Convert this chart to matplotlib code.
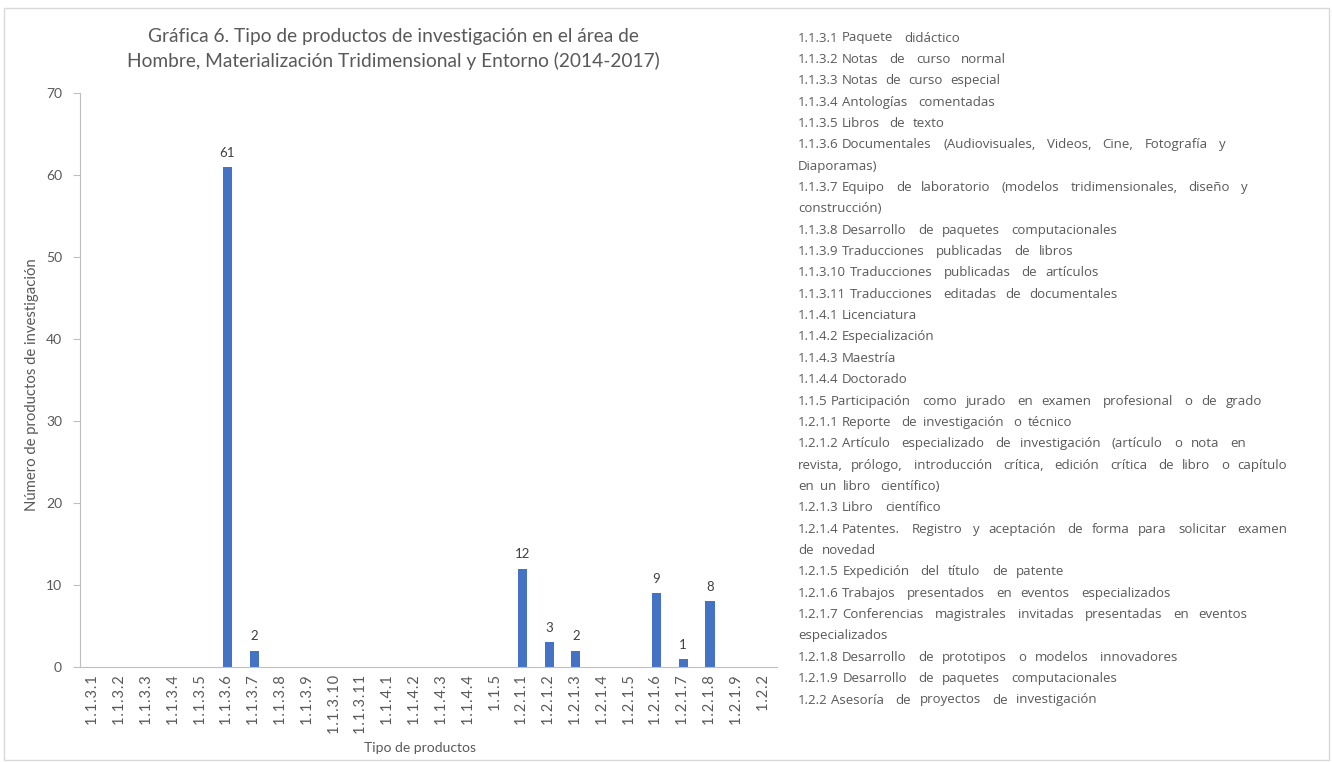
import re
import matplotlib
matplotlib.use("Agg")
import matplotlib.pyplot as plt
from matplotlib.patches import Rectangle

categories = ["1.1.3.1", "1.1.3.2", "1.1.3.3", "1.1.3.4", "1.1.3.5", "1.1.3.6",
              "1.1.3.7", "1.1.3.8", "1.1.3.9", "1.1.3.10", "1.1.3.11", "1.1.4.1",
              "1.1.4.2", "1.1.4.3", "1.1.4.4", "1.1.5", "1.2.1.1", "1.2.1.2",
              "1.2.1.3", "1.2.1.4", "1.2.1.5", "1.2.1.6", "1.2.1.7", "1.2.1.8",
              "1.2.1.9", "1.2.2"]
values = [0, 0, 0, 0, 0, 61, 2, 0, 0, 0, 0, 0, 0, 0, 0, 0, 12, 3, 2, 0, 0, 9, 1, 8, 0, 0]

title = "Gráfica 6. Tipo de productos de investigación en el área de\nHombre, Materialización Tridimensional y Entorno (2014-2017)"
xlabel = "Tipo de productos"
ylabel = "Número de productos de investigación"
yticks = [0, 10, 20, 30, 40, 50, 60, 70]

legend_lines = [
    "1.1.3.1 Paquete  didáctico",
    "1.1.3.2 Notas  de  curso  normal",
    "1.1.3.3 Notas  de  curso  especial",
    "1.1.3.4 Antologías  comentadas",
    "1.1.3.5 Libros  de  texto",
    "1.1.3.6 Documentales  (Audiovisuales,  Videos,  Cine,  Fotografía  y",
    "Diaporamas)",
    "1.1.3.7 Equipo  de laboratorio  (modelos  tridimensionales,  diseño  y",
    "construcción)",
    "1.1.3.8 Desarrollo  de paquetes  computacionales",
    "1.1.3.9 Traducciones  publicadas  de libros",
    "1.1.3.10 Traducciones  publicadas  de artículos",
    "1.1.3.11 Traducciones  editadas de documentales",
    "1.1.4.1 Licenciatura",
    "1.1.4.2 Especialización",
    "1.1.4.3 Maestría",
    "1.1.4.4 Doctorado",
    "1.1.5 Participación  como jurado  en examen  profesional  o de grado",
    "1.2.1.1 Reporte  de investigación  o técnico",
    "1.2.1.2 Artículo  especializado  de investigación  (artículo  o nota  en",
    "revista, prólogo,  introducción  crítica,  edición  crítica  de libro  o capítulo",
    "en un libro  científico)",
    "1.2.1.3 Libro  científico",
    "1.2.1.4 Patentes.  Registro  y aceptación  de forma para  solicitar  examen",
    "de novedad",
    "1.2.1.5 Expedición  del título  de patente",
    "1.2.1.6 Trabajos  presentados  en eventos  especializados",
    "1.2.1.7 Conferencias  magistrales  invitadas  presentadas  en eventos",
    "especializados",
    "1.2.1.8 Desarrollo  de prototipos  o modelos  innovadores",
    "1.2.1.9 Desarrollo  de paquetes  computacionales",
    "1.2.2 Asesoría  de proyectos  de investigación",
]
# approximate right edge (pixels) of each legend line in the original
legend_right = [970, 1006, 1000, 1008, 945, 1248, 878, 1264, 885, 1131, 1085, 1112,
                1135, 920, 948, 904, 917, 1268, 1072, 1258, 1287, 940, 948, 1297,
                878, 1073, 1185, 1264, 887, 1188, 1131, 1106]

W, H = 1333, 762
fig = plt.figure(figsize=(W / 100, H / 100), dpi=100)
fig.patch.set_facecolor("white")
plt.rcParams['font.family'] = ['Lato', 'DejaVu Sans']

gray = "#595959"
bar_color = "#4472C4"

fig.add_artist(Rectangle((4 / W, 1 - 760 / H), 1325 / W, 752 / H, transform=fig.transFigure,
                         fill=False, edgecolor="#d9d9d9", linewidth=1))

ax = fig.add_axes([80 / W, 1 - 667 / H, (777 - 80) / W, (667 - 93) / H])
x = list(range(len(categories)))
ax.bar(x, values, width=0.34, color=bar_color)
for xi, v in zip(x, values):
    if v > 0:
        ax.text(xi, v + 1.0, str(v), ha="center", va="bottom", fontsize=9.5, color="#404040")

ax.set_xlim(-0.5, len(categories) - 0.5)
ax.set_ylim(0, 70)
ax.set_yticks(yticks)
ax.set_yticklabels([str(t) for t in yticks], fontsize=10, color=gray)
ax.set_xticks(x)
ax.set_xticklabels(["\u200a".join(c) for c in categories], rotation=90, fontsize=10.5,
                   color=gray)
ax.tick_params(axis="x", length=0, pad=6)
ax.tick_params(axis="y", length=5, color="#bfbfbf", pad=8)
for s in ["top", "right"]:
    ax.spines[s].set_visible(False)
ax.spines["left"].set_color("#bfbfbf")
ax.spines["bottom"].set_color("#bfbfbf")

fig.text(393 / W, 1 - 49 / H, title, ha="center", va="center", fontsize=13.8,
         color=gray, linespacing=1.4)
fig.text(420 / W, 1 - 748 / H, xlabel, ha="center", va="center", fontsize=10, color=gray)
fig.text(32 / W, 1 - 385 / H, ylabel, ha="center", va="center", rotation=90,
         fontsize=10.7, color=gray)

renderer = fig.canvas.get_renderer()
lfam = ["Open Sans", "DejaVu Sans"]
fs = 9.5
t1 = fig.text(0, 0, "a a", fontsize=fs, family=lfam)
t2 = fig.text(0, 0, "aa", fontsize=fs, family=lfam)
space_w = t1.get_window_extent(renderer).width - t2.get_window_extent(renderer).width
t1.remove()
t2.remove()

x0 = 798
y0 = 38
step = (700 - 38) / (len(legend_lines) - 1)
for i, (line, right) in enumerate(zip(legend_lines, legend_right)):
    yy = 1 - (y0 + i * step) / H
    parts = re.split(r"( +)", line)
    words = parts[0::2]
    seps = parts[1::2]
    texts = [fig.text(0, yy, w, ha="left", va="center", fontsize=fs, color=gray,
                      family=lfam) for w in words]
    widths = [t.get_window_extent(renderer).width for t in texts]
    gaps = [space_w * (1 if len(s) == 1 else 1.8) for s in seps]
    stretch = list(range(1, len(seps))) if words[0][:1].isdigit() else list(range(len(seps)))
    if stretch:
        extra = right - x0 - sum(widths) - sum(gaps)
        if extra > 0:
            add = min(extra / len(stretch), 5.0)
            for j in stretch:
                gaps[j] += add
    cx = x0
    for k, (t, w) in enumerate(zip(texts, widths)):
        t.set_x(cx / W)
        cx += w + (gaps[k] if k < len(gaps) else 0)

fig.savefig("out.png", dpi=100, facecolor="white")
